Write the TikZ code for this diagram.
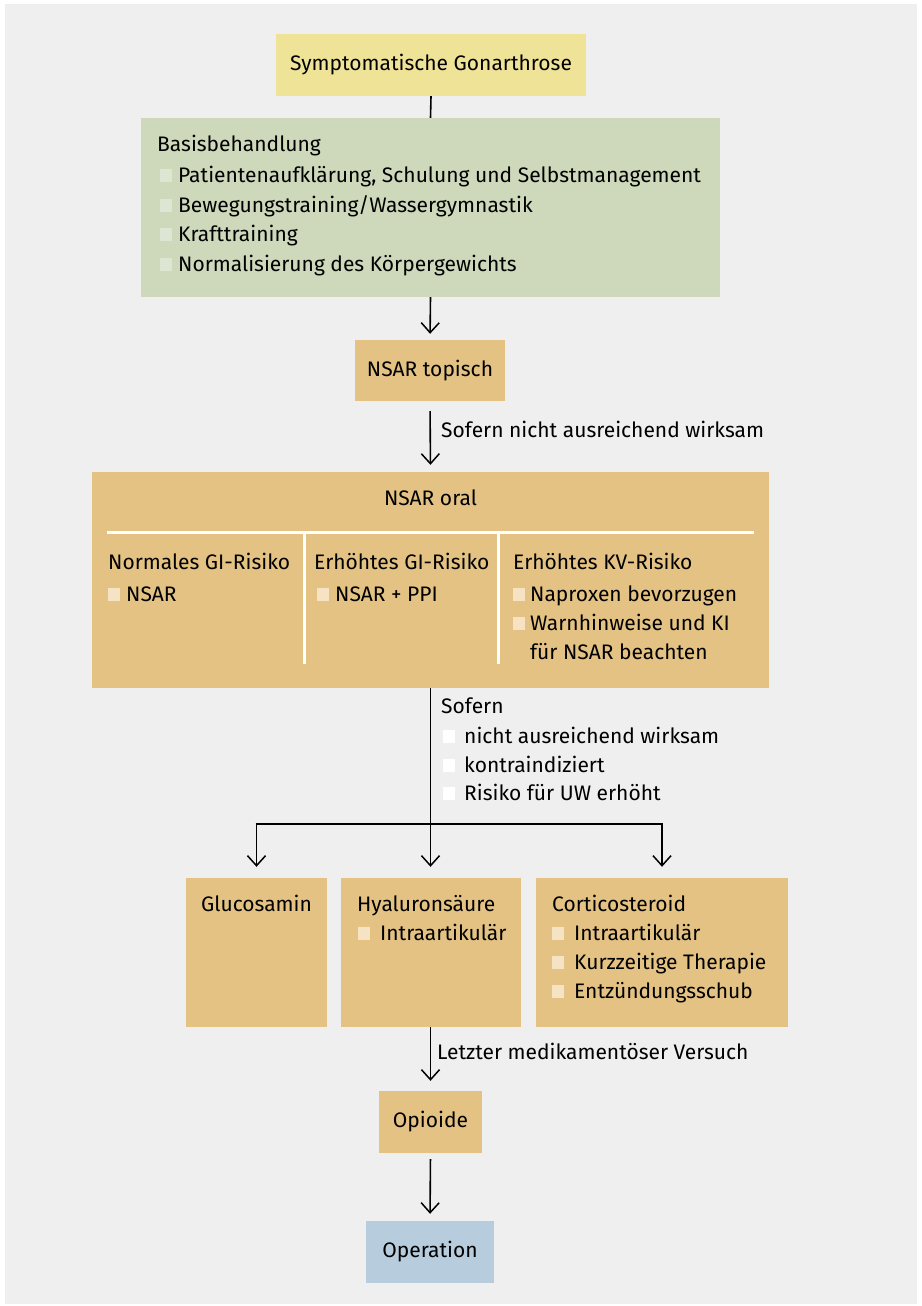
\documentclass[tikz,border=0pt]{standalone}
\usepackage{fontspec}
\setmainfont{Fira Sans}
\usetikzlibrary{arrows.meta}
\definecolor{bgc}{HTML}{EFEFEF}
\definecolor{yel}{HTML}{EFE397}
\definecolor{grn}{HTML}{CDD9BA}
\definecolor{tan}{HTML}{E3C283}
\definecolor{blu}{HTML}{B7CDDD}
\definecolor{tanb}{HTML}{F5E3C4}
\definecolor{grnb}{HTML}{DDE6D2}
\newcommand\bsq[2][6pt]{\textcolor{#2}{\rule{12pt}{13pt}}\hspace{#1}}
\tikzset{
  box/.style={fill=#1, draw=none, inner sep=0pt},
  txt/.style={anchor=base west, inner sep=0pt},
  conn/.style={draw=black, line width=1.6pt},
  arr/.style={conn, -{Straight Barb[length=10pt,width=18pt,line width=1.5pt]}},
}
\begin{document}
\begin{tikzpicture}[x=1pt,y=-1pt,font=\fontsize{21}{25}\selectfont]
\useasboundingbox (0,0) rectangle (921,1306);
\fill[white] (0,0) rectangle (921,1306);
\fill[bgc] (5,4) rectangle (917,1304);

% boxes
\node[box=yel, minimum width=310pt, minimum height=62pt] (sym) at (431,65) {Symptomatische Gonarthrose};
\node[box=grn, minimum width=579pt, minimum height=179pt] (basis) at (430.5,207.5) {};
\node[box=tan, minimum width=150pt, minimum height=61pt] (top) at (430,370.5) {NSAR topisch};
\node[box=tan, minimum width=677pt, minimum height=216pt] (oral) at (430.5,580) {};
\node[box=tan, minimum width=141pt, minimum height=149pt] (gluc) at (256.5,952.5) {};
\node[box=tan, minimum width=180pt, minimum height=149pt] (hyal) at (431,952.5) {};
\node[box=tan, minimum width=252pt, minimum height=149pt] (cort) at (662,952.5) {};
\node[box=tan, minimum width=103pt, minimum height=62pt] (opi) at (430.5,1122) {Opioide};
\node[box=blu, minimum width=128pt, minimum height=62pt] (op) at (430,1252) {Operation};

% Basisbehandlung text
\node[txt] (b0) at (157,151) {Basisbehandlung};
\node[txt] (b1) at (160,182) {\bsq{grnb}Patientenaufklärung, Schulung und Selbstmanagement};
\node[txt] (b2) at (160,212) {\bsq{grnb}Bewegungstraining/Wassergymnastik};
\node[txt] (b3) at (160,241) {\bsq{grnb}Krafttraining};
\node[txt] (b4) at (160,271) {\bsq{grnb}Normalisierung des Körpergewichts};

% NSAR oral content
\node[anchor=base, inner sep=0pt] (o0) at (430.5,505) {NSAR oral};
\draw[white, line width=3pt] (106.5,532.5) coordinate (hl) -- (754,532.5) coordinate (hr);
\draw[white, line width=3pt] (304,532.5) coordinate (v1t) -- (304,664) coordinate (v1b);
\draw[white, line width=3pt] (498.5,532.5) coordinate (v2t) -- (498.5,664) coordinate (v2b);
\node[txt] (c1) at (108,569) {Normales GI-Risiko};
\node[txt] (c1a) at (108,601) {\bsq{tanb}NSAR};
\node[txt] (c2) at (314,569) {Erhöhtes GI-Risiko};
\node[txt] (c2a) at (317,601) {\bsq{tanb}NSAR + PPI};
\node[txt] (c3) at (513,569) {Erhöhtes KV-Risiko};
\node[txt] (c3a) at (513,601) {\bsq[5pt]{tanb}Naproxen bevorzugen};
\node[txt] (c3b) at (513,630) {\bsq[5pt]{tanb}Warnhinweise und KI};
\node[txt] (c3c) at (530,659) {für NSAR beachten};

% bottom boxes text
\node[anchor=base, inner sep=0pt] (g0) at (256.5,911) {Glucosamin};
\node[txt] (h0) at (357,911) {Hyaluronsäure};
\node[txt] (h1) at (358,940) {\bsq[10pt]{tanb}Intraartikulär};
\node[txt] (k0) at (552,911) {Corticosteroid};
\node[txt] (k1) at (552,940) {\bsq[10pt]{tanb}Intraartikulär};
\node[txt] (k2) at (552,969) {\bsq[10pt]{tanb}Kurzzeitige Therapie};
\node[txt] (k3) at (552,998) {\bsq[10pt]{tanb}Entzündungsschub};

% connectors
\draw[conn] (sym.south) -- (basis.north);
\draw[arr, shorten >=6pt] (basis.south) -- (top.north);
\draw[arr, shorten <=10pt, shorten >=7pt] (top.south) -- (oral.north);
\node[txt] (l1) at (441,437) {Sofern nicht ausreichend wirksam};

\coordinate (split) at (430.5,824);
\coordinate (lb) at (256.5,824);
\coordinate (rb) at (662,824);
\draw[conn] (oral.south) -- (split);
\draw[conn] ([xshift=-0.8pt]lb) -- ([xshift=0.8pt]rb);
\draw[arr, shorten >=11pt] (lb) -- (gluc.north);
\draw[arr, shorten >=11pt] (split) -- (split |- hyal.north);
\draw[arr, shorten >=11pt] (rb) -- (cort.north);
\node[txt] (s0) at (441,713) {Sofern};
\node[txt] (s1) at (443,743) {\bsq[9pt]{white}nicht ausreichend wirksam};
\node[txt] (s2) at (443,772) {\bsq[9pt]{white}kontraindiziert};
\node[txt] (s3) at (443,800) {\bsq[9pt]{white}Risiko für UW erhöht};

\draw[arr, shorten >=10pt] (hyal.south -| split) -- (opi.north);
\node[txt] (l2) at (437,1059) {Letzter medikamentöser Versuch};
\draw[arr, shorten <=6pt, shorten >=7pt] (opi.south) -- (op.north);
\end{tikzpicture}
\end{document}
